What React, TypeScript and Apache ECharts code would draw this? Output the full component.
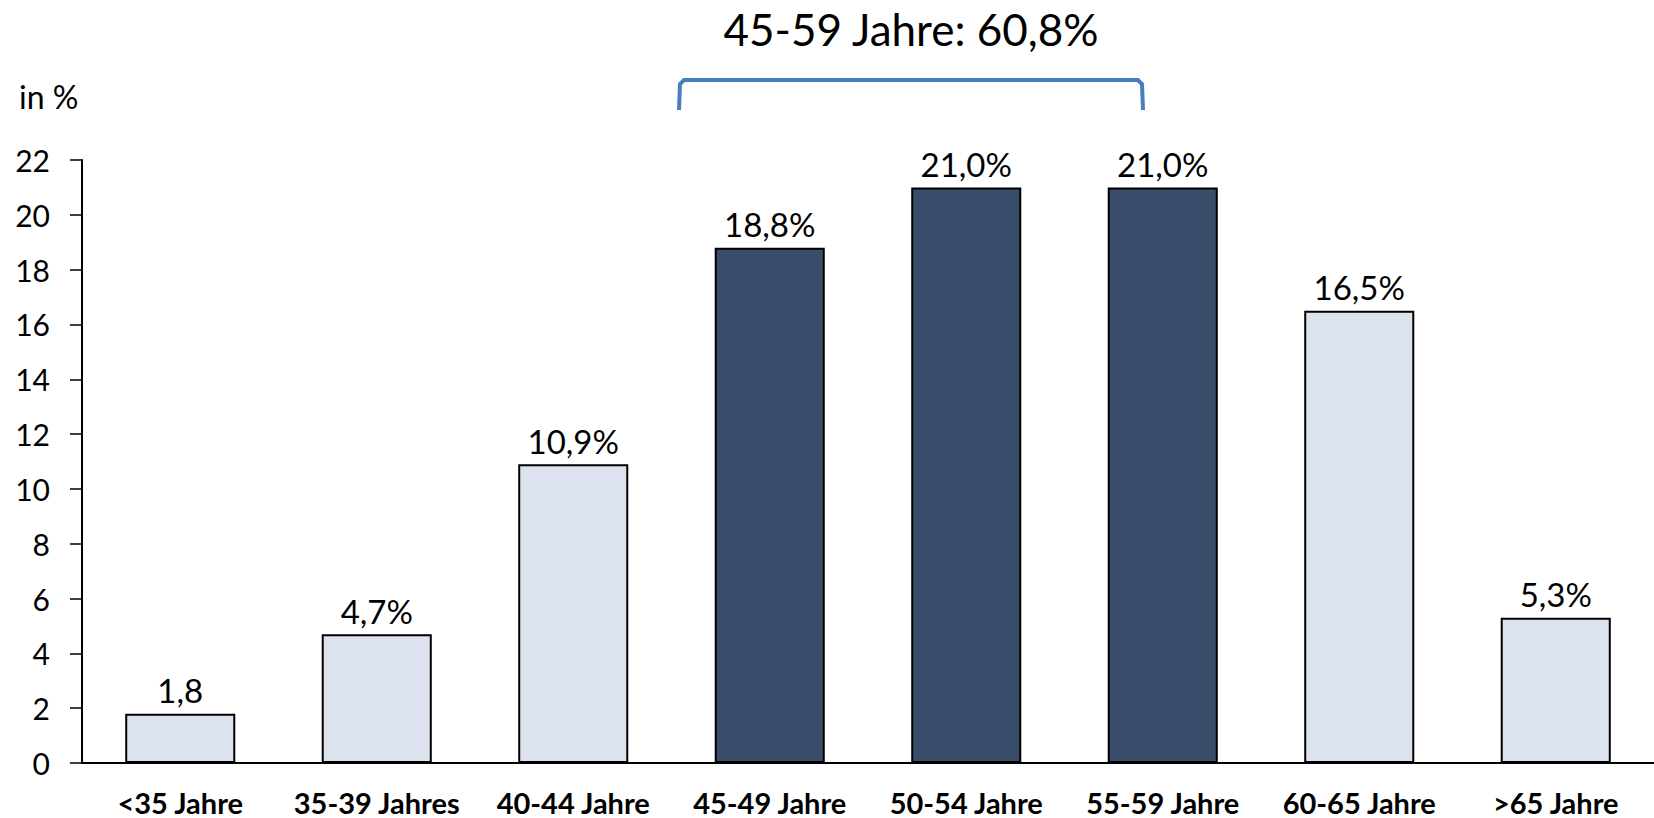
import React, { useEffect, useRef } from "react";
import * as echarts from "echarts";

const categories = [
  "<35 Jahre",
  "35-39 Jahres",
  "40-44 Jahre",
  "45-49 Jahre",
  "50-54 Jahre",
  "55-59 Jahre",
  "60-65 Jahre",
  ">65 Jahre",
];
const values = [1.8, 4.7, 10.9, 18.8, 21.0, 21.0, 16.5, 5.3];
const valueLabels = ["1,8", "4,7%", "10,9%", "18,8%", "21,0%", "21,0%", "16,5%", "5,3%"];
const highlighted = [false, false, false, true, true, true, false, false];
const yTicks = { min: 0, max: 22, interval: 2 };
const unitLabel = "in %";
const groupTitle = "45-59 Jahre: 60,8%";

const LIGHT = "#DCE3EE";
const DARK = "#394D6B";
const FONT = "Lato, 'Open Sans', sans-serif";

export default function App() {
  const ref = useRef<HTMLDivElement>(null);
  useEffect(() => {
    document.body.style.margin = "0";
    const chart = echarts.init(ref.current!, null, { renderer: "svg" });
    chart.setOption({
      animation: false,
      backgroundColor: "#ffffff",
      grid: { left: 82, right: -6, top: 160, bottom: 55 },
      xAxis: {
        type: "category",
        data: categories,
        axisLine: { lineStyle: { color: "#000", width: 2 } },
        axisTick: { show: false },
        axisLabel: {
          color: "#000",
          fontFamily: FONT,
          fontWeight: "bold",
          fontSize: 29,
          lineHeight: 28,
          margin: 25,
          interval: 0,
        },
      },
      yAxis: {
        type: "value",
        min: yTicks.min,
        max: yTicks.max,
        interval: yTicks.interval,
        splitLine: { show: false },
        axisLine: { show: true, lineStyle: { color: "#000", width: 2 } },
        axisTick: { show: true, length: 12, lineStyle: { color: "#000", width: 1.5 } },
        axisLabel: { color: "#000", fontFamily: FONT, fontSize: 30, margin: 32 },
      },
      series: [
        {
          type: "bar",
          barCategoryGap: "44%",
          data: values.map((v, i) => ({
            value: v,
            itemStyle: {
              color: highlighted[i] ? DARK : LIGHT,
              borderColor: "#000",
              borderWidth: 2,
            },
          })),
          label: {
            show: true,
            position: "top",
            distance: 7,
            color: "#000",
            fontFamily: FONT,
            fontSize: 33,
            formatter: (p: any) => valueLabels[p.dataIndex],
          },
        },
      ],
      graphic: [
        {
          type: "text",
          left: 19,
          top: 80,
          style: { text: unitLabel, fill: "#000", font: `32px ${FONT}` },
        },
        {
          type: "text",
          x: 911,
          y: 29,
          style: {
            text: groupTitle,
            fill: "#000",
            font: `44px ${FONT}`,
            textAlign: "center",
            textVerticalAlign: "middle",
          },
        },
        {
          type: "polyline",
          shape: {
            points: [
              [679, 110],
              [680, 84],
              [684, 80],
              [1138, 80],
              [1142, 84],
              [1143, 110],
            ],
          },
          style: { stroke: "#4A7EBB", lineWidth: 4, fill: "none" },
        },
      ],
    });
    return () => chart.dispose();
  }, []);
  return (
    <div
      ref={ref}
      style={{ position: "absolute", left: 0, top: 0, width: 1654, height: 818 }}
    />
  );
}
